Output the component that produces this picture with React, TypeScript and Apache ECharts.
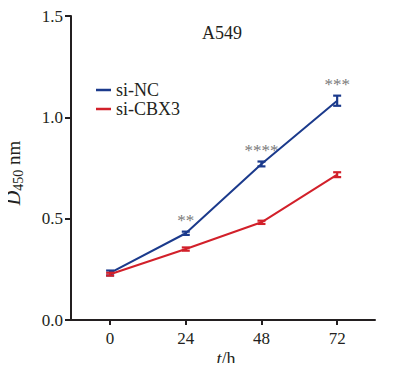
import React, { useEffect, useRef } from "react";
import * as echarts from "echarts";

const timePoints = [0, 24, 48, 72];
const xTicks = [0, 24, 48, 72];
const ncMean = [0.232, 0.428, 0.77, 1.082];
const ncErr = [0.012, 0.008, 0.012, 0.025];
const cbxMean = [0.226, 0.35, 0.482, 0.717];
const cbxErr = [0.007, 0.008, 0.008, 0.012];
const significance = ["", "**", "****", "***"];

const FONT = "'Liberation Serif', 'Times New Roman', serif";
const BLUE = "#1b3a8c";
const RED = "#d2202a";
const AXIS = "#231f20";

function errorSeries(name: string, mean: number[], err: number[], color: string) {
  return {
    type: "custom",
    name: name + "-err",
    silent: true,
    z: 5,
    data: timePoints.map((t, i) => [t, mean[i] - err[i], mean[i] + err[i]]),
    renderItem: (params: any, api: any) => {
      const lo = api.coord([api.value(0), api.value(1)]);
      const hi = api.coord([api.value(0), api.value(2)]);
      const hw = 4;
      const style = { stroke: color, lineWidth: 2.2 };
      return {
        type: "group",
        children: [
          { type: "line", shape: { x1: lo[0], y1: lo[1], x2: hi[0], y2: hi[1] }, style },
          { type: "line", shape: { x1: lo[0] - hw, y1: lo[1], x2: lo[0] + hw, y2: lo[1] }, style },
          { type: "line", shape: { x1: hi[0] - hw, y1: hi[1], x2: hi[0] + hw, y2: hi[1] }, style },
        ],
      };
    },
  };
}

export default function App() {
  const ref = useRef<HTMLDivElement>(null);
  useEffect(() => {
    const chart = echarts.init(ref.current!, null, { renderer: "svg" });
    chart.setOption({
      animation: false,
      title: {
        text: "A549",
        left: 202,
        top: 24,
        padding: 0,
        textStyle: { fontFamily: FONT, fontSize: 18, fontWeight: "normal", color: AXIS },
      },
      legend: {
        orient: "vertical",
        left: 96,
        top: 81,
        padding: 0,
        itemWidth: 15,
        itemHeight: 2.5,
        itemGap: 1,
        icon: "rect",
        data: ["si-NC", "si-CBX3"],
        textStyle: { fontFamily: FONT, fontSize: 18, color: AXIS, lineHeight: 17 },
      },
      grid: { left: 71, right: 23, top: 16, bottom: 51, containLabel: false, outerBoundsMode: "none" },
      xAxis: {
        type: "value",
        min: -12.4,
        max: 84,
        name: "{i|t}{n|/h}",
        nameLocation: "middle",
        nameGap: 30,
        nameMoveOverlap: false,
        nameTextStyle: {
          padding: [0, 0, 0, 6],
          rich: {
            i: { fontFamily: FONT, fontSize: 18, fontStyle: "italic", color: AXIS },
            n: { fontFamily: FONT, fontSize: 18, color: AXIS },
          },
        },
        splitLine: { show: false },
        axisLine: { onZero: false, lineStyle: { color: AXIS, width: 2 } },
        axisTick: { length: 5, lineStyle: { color: AXIS, width: 2 }, customValues: xTicks },
        axisLabel: {
          customValues: xTicks,
          margin: 10,
          fontFamily: FONT,
          fontSize: 17,
          color: AXIS,
        },
      },
      yAxis: {
        type: "value",
        min: 0,
        max: 1.5,
        interval: 0.5,
        name: "{i|D}{sub|450}{n| nm}",
        nameLocation: "middle",
        nameRotate: 90,
        nameGap: 46,
        nameMoveOverlap: false,
        nameTextStyle: {
          padding: [0, 10, 0, 0],
          rich: {
            i: { fontFamily: FONT, fontSize: 20, fontStyle: "italic", color: AXIS, lineHeight: 24 },
            sub: { fontFamily: FONT, fontSize: 14, color: AXIS, padding: [11, 0, 0, 0], lineHeight: 16 },
            n: { fontFamily: FONT, fontSize: 19, color: AXIS, lineHeight: 24 },
          },
        },
        splitLine: { show: false },
        axisLine: { show: true, onZero: false, lineStyle: { color: AXIS, width: 2 } },
        axisTick: { show: true, length: 6, lineStyle: { color: AXIS, width: 2 } },
        axisLabel: {
          margin: 8,
          fontFamily: FONT,
          fontSize: 17,
          color: AXIS,
          formatter: (v: number) => v.toFixed(1),
        },
      },
      series: [
        {
          name: "si-NC",
          type: "line",
          data: timePoints.map((t, i) => [t, ncMean[i]]),
          showSymbol: false,
          symbol: "none",
          color: BLUE,
          lineStyle: { color: BLUE, width: 2 },
          z: 3,
        },
        {
          name: "si-CBX3",
          type: "line",
          data: timePoints.map((t, i) => [t, cbxMean[i]]),
          showSymbol: false,
          symbol: "none",
          color: RED,
          lineStyle: { color: RED, width: 2 },
          z: 3,
        },
        errorSeries("si-NC", ncMean, ncErr, BLUE),
        errorSeries("si-CBX3", cbxMean, cbxErr, RED),
        {
          type: "custom",
          name: "sig",
          silent: true,
          data: timePoints.map((t, i) => [t, ncMean[i] + ncErr[i], i]),
          renderItem: (params: any, api: any) => {
            const p = api.coord([api.value(0), api.value(1)]);
            const idx = api.value(2);
            return {
              type: "text",
              x: p[0],
              y: p[1] - 3,
              style: {
                text: significance[idx],
                fontFamily: FONT,
                fontSize: 17,
                fill: "#7a7a7a",
                align: "center",
                verticalAlign: "bottom",
              },
            };
          },
        },
      ],
    });
    return () => chart.dispose();
  }, []);
  return <div ref={ref} style={{ width: 398, height: 371, margin: -8 }} />;
}
